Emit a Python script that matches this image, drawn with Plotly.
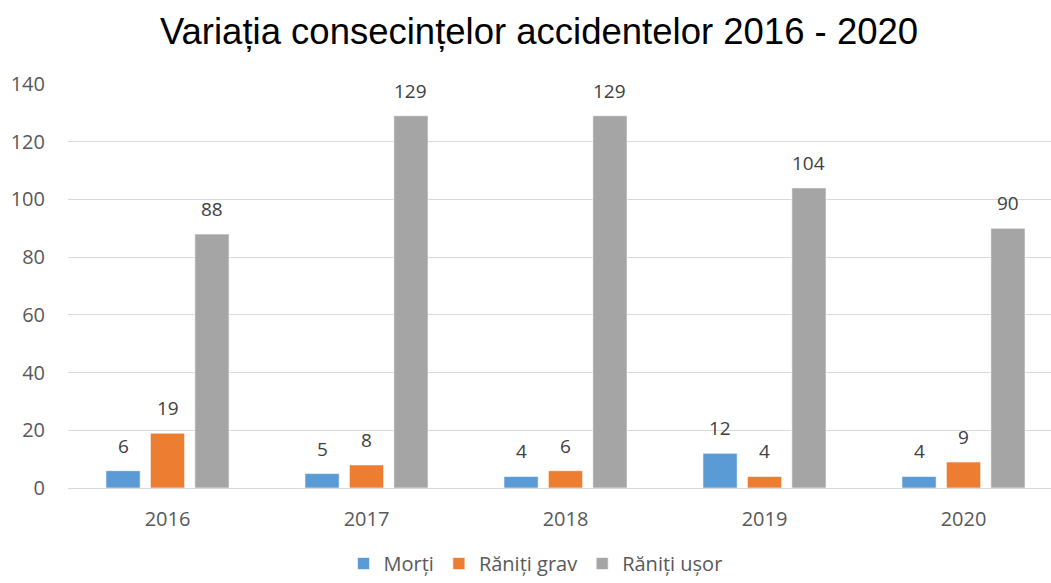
import plotly.graph_objects as go

years = ["2016", "2017", "2018", "2019", "2020"]
morti = [6, 5, 4, 12, 4]
raniti_grav = [19, 8, 6, 4, 9]
raniti_usor = [88, 129, 129, 104, 90]

series_names = ["Morți", "Răniți grav", "Răniți ușor"]
series_colors = ["#5B9BD5", "#ED7D31", "#A5A5A5"]
series_values = [morti, raniti_grav, raniti_usor]

W, H = 1051, 583
M_L, M_R, M_T, M_B = 68, 0, 84, 95
plot_w = W - M_L - M_R
cat_px = 199.0
x_end = -0.5 + plot_w / cat_px

fig = go.Figure()
for name, color, vals in zip(series_names, series_colors, series_values):
    fig.add_trace(go.Bar(
        x=years, y=vals, name=name,
        marker=dict(color=color, line=dict(color="rgba(255,255,255,0.6)", width=1)),
    ))

bargap = 0.33
slot_px = cat_px * (1 - bargap) / 3
annotations = []
for i, vals in enumerate(series_values):
    for j, v in enumerate(vals):
        # category axis: annotation x given as the category index
        annotations.append(dict(
            x=j, y=v, xref="x", yref="y", text=str(v), showarrow=False,
            xshift=(i - 1) * slot_px, yshift=25,
            font=dict(family="Open Sans", size=19, color="#404040"),
        ))

fig.update_layout(
    width=W, height=H,
    margin=dict(l=M_L, r=M_R, t=M_T, b=M_B, pad=0),
    paper_bgcolor="white", plot_bgcolor="white",
    barmode="group", bargap=bargap, bargroupgap=0.23,
    title=dict(
        text="Variația consecințelor accidentelor 2016 - 2020",
        x=539 / W, xanchor="center", y=1 - 31 / H, yanchor="middle",
        font=dict(family="Liberation Sans", size=36.5, color="#000000"),
    ),
    xaxis=dict(
        type="category", range=[-0.5, x_end],
        showgrid=False, showline=True, linecolor="#D9D9D9", linewidth=1,
        ticks="", ticklabelstandoff=13,
        tickfont=dict(family="Open Sans", size=20, color="#595959"),
    ),
    yaxis=dict(
        range=[0, 140], dtick=20, showgrid=True, gridcolor="#D9D9D9", gridwidth=1,
        zeroline=False, showline=False, ticks="", ticklabelstandoff=22,
        tickfont=dict(family="Open Sans", size=20, color="#595959"),
    ),
    legend=dict(
        orientation="h", x=0.5 + 10 / W, xref="container", xanchor="center",
        y=0, yref="container", yanchor="bottom",
        font=dict(family="Open Sans", size=20, color="#595959"),
        itemwidth=30, traceorder="normal",
    ),
    annotations=annotations,
    showlegend=True,
)

fig.write_html("out.html")
